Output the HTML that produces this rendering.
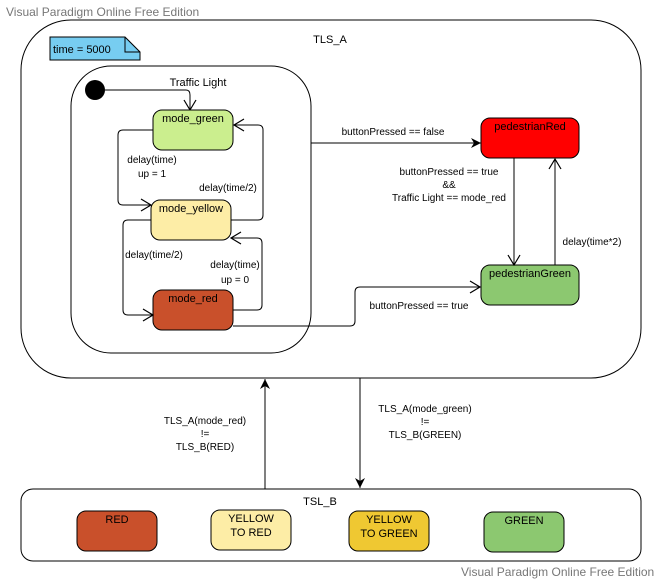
<!DOCTYPE html>
<html><head><meta charset="utf-8"><style>
body{margin:0;background:#fff;}
svg{display:block;font-family:"Liberation Sans",sans-serif;}
</style></head><body>
<svg width="660" height="581" viewBox="0 0 660 581" xmlns="http://www.w3.org/2000/svg">
<defs>
<marker id="open" markerWidth="14" markerHeight="14" refX="11" refY="7" orient="auto" markerUnits="userSpaceOnUse"><path d="M1,1 L11,7 L1,13" fill="none" stroke="#000" stroke-width="1.2"/></marker>
<marker id="fill" markerWidth="12" markerHeight="12" refX="10" refY="6" orient="auto" markerUnits="userSpaceOnUse"><path d="M0,1 L10,6 L0,11 L3,6 Z" fill="#000"/></marker>
</defs>
<text x="6" y="16" font-size="12" fill="#777">Visual Paradigm Online Free Edition</text>

<rect x="21" y="20" width="620" height="358" rx="50" fill="#fff" stroke="#000"/>
<text x="330" y="43" font-size="11" text-anchor="middle">TLS_A</text>
<path d="M50,37 L125,37 L140,52 L140,60 L50,60 Z" fill="#77cdf1" stroke="#000"/>
<path d="M125,37 L125,52 L140,52" fill="none" stroke="#000"/>
<text x="53" y="53" font-size="11">time = 5000</text>

<rect x="71" y="66" width="240" height="287" rx="40" fill="#fff" stroke="#000"/>
<text x="198" y="86" font-size="11" text-anchor="middle">Traffic Light</text>
<circle cx="95" cy="90" r="10" fill="#000"/>
<path d="M105,90 L186,90 Q190,90 190,95 L190,110" fill="none" stroke="#000" marker-end="url(#open)"/>

<rect x="153" y="110" width="80" height="40" rx="9" fill="#cbee8e" stroke="#000"/>
<text x="193" y="122" font-size="11" text-anchor="middle">mode_green</text>
<rect x="151" y="200" width="80" height="40" rx="9" fill="#fdeda6" stroke="#000"/>
<text x="191" y="212" font-size="11" text-anchor="middle">mode_yellow</text>
<rect x="153" y="290" width="80" height="40" rx="9" fill="#c9502b" stroke="#000"/>
<text x="193" y="302" font-size="11" text-anchor="middle">mode_red</text>

<path d="M153,130 L123,130 Q118,130 118,135 L118,200 Q118,205 123,205 L151,205" fill="none" stroke="#000" marker-end="url(#open)"/>
<text x="152" y="163" font-size="10" text-anchor="middle">delay(time)</text>
<text x="152" y="177" font-size="10" text-anchor="middle">up = 1</text>
<path d="M231,220 L258,220 Q263,220 263,215 L263,130 Q263,125 258,125 L234,125" fill="none" stroke="#000" marker-end="url(#open)"/>
<text x="228" y="191" font-size="10" text-anchor="middle">delay(time/2)</text>
<path d="M151,220 L128,220 Q123,220 123,225 L123,310 Q123,315 128,315 L153,315" fill="none" stroke="#000" marker-end="url(#open)"/>
<text x="154" y="258" font-size="10" text-anchor="middle">delay(time/2)</text>
<path d="M233,310 L257,310 Q262,310 262,305 L262,243 Q262,238 257,238 L231,238" fill="none" stroke="#000" marker-end="url(#open)"/>
<text x="235" y="268" font-size="10" text-anchor="middle">delay(time)</text>
<text x="235" y="283" font-size="10" text-anchor="middle">up = 0</text>

<rect x="481" y="118" width="98" height="40" rx="9" fill="#ff0000" stroke="#000"/>
<text x="530" y="130" font-size="11" text-anchor="middle">pedestrianRed</text>
<rect x="481" y="265" width="98" height="40" rx="9" fill="#8cc870" stroke="#000"/>
<text x="530" y="277" font-size="11" text-anchor="middle">pedestrianGreen</text>

<path d="M311,143 L481,143" fill="none" stroke="#000" marker-end="url(#fill)"/>
<text x="393" y="135" font-size="10" text-anchor="middle">buttonPressed == false</text>
<path d="M233,326 L350,326 Q355,326 355,321 L355,292 Q355,287 360,287 L480,287" fill="none" stroke="#000" marker-end="url(#open)"/>
<text x="419" y="309" font-size="10" text-anchor="middle">buttonPressed == true</text>
<path d="M514,158 L514,265" fill="none" stroke="#000" marker-end="url(#open)"/>
<text x="449" y="175" font-size="10" text-anchor="middle">buttonPressed == true</text>
<text x="449" y="188" font-size="10" text-anchor="middle">&amp;&amp;</text>
<text x="449" y="201" font-size="10" text-anchor="middle">Traffic Light == mode_red</text>
<path d="M555,265 L555,159" fill="none" stroke="#000" marker-end="url(#open)"/>
<text x="592" y="245" font-size="10" text-anchor="middle">delay(time*2)</text>

<path d="M265,489 L265,379" fill="none" stroke="#000" marker-end="url(#fill)"/>
<text x="205" y="424" font-size="10" text-anchor="middle">TLS_A(mode_red)</text>
<text x="205" y="437" font-size="10" text-anchor="middle">!=</text>
<text x="205" y="450" font-size="10" text-anchor="middle">TLS_B(RED)</text>
<path d="M360,378 L360,488" fill="none" stroke="#000" marker-end="url(#fill)"/>
<text x="425" y="412" font-size="10" text-anchor="middle">TLS_A(mode_green)</text>
<text x="425" y="425" font-size="10" text-anchor="middle">!=</text>
<text x="425" y="438" font-size="10" text-anchor="middle">TLS_B(GREEN)</text>

<rect x="21" y="489" width="620" height="72" rx="12" fill="#fff" stroke="#000"/>
<text x="320" y="505" font-size="11" text-anchor="middle">TSL_B</text>
<rect x="77" y="511" width="80" height="40" rx="9" fill="#c9502b" stroke="#000"/>
<text x="117" y="523" font-size="11" text-anchor="middle">RED</text>
<rect x="211" y="510" width="80" height="40" rx="9" fill="#fdeda6" stroke="#000"/>
<text x="251" y="522" font-size="11" text-anchor="middle">YELLOW</text>
<text x="251" y="536" font-size="11" text-anchor="middle">TO RED</text>
<rect x="349" y="511" width="80" height="40" rx="9" fill="#efc832" stroke="#000"/>
<text x="389" y="523" font-size="11" text-anchor="middle">YELLOW</text>
<text x="389" y="537" font-size="11" text-anchor="middle">TO GREEN</text>
<rect x="484" y="512" width="80" height="40" rx="9" fill="#8cc870" stroke="#000"/>
<text x="524" y="524" font-size="11" text-anchor="middle">GREEN</text>
<text x="461" y="576" font-size="12" fill="#777">Visual Paradigm Online Free Edition</text>
</svg>
</body></html>
